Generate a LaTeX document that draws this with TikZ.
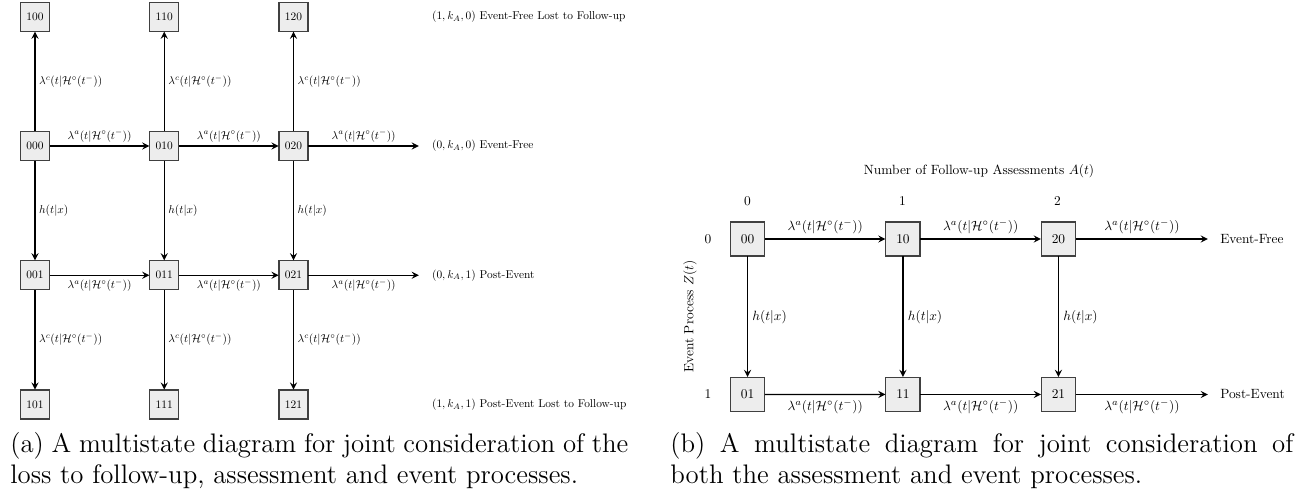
\RequirePackage{fix-cm}
\documentclass[tikz,border=0pt]{standalone}
\usepackage{tikz}
\usetikzlibrary{arrows,positioning}
\tikzset{
  state/.style = {
    rectangle,
    draw=black!75,
    line width=0.6pt,
    fill=black!7,
    minimum size=25.5pt,
    inner sep=0pt
  },
  outcome/.style = {
    anchor=west
  },
  flow/.style = {
    line width=0.6pt,
    ->,
    >=stealth,
    black
  },
  caption/.style = {
    anchor=base west,
    inner sep=0pt,
    align=justify,
    font=\fontsize{13.4}{15.5}\selectfont
  }
}
\newcommand{\rateA}{$\lambda^a(t|\mathcal{H}^\circ(t^-))$}
\newcommand{\rateC}{$\lambda^c(t|\mathcal{H}^\circ(t^-))$}
\newcommand{\hazard}{$h(t|x)$}

\begin{document}
\begin{tikzpicture}[x=0.5pt,y=-0.5pt]
\useasboundingbox (0,0) rectangle (1308,498);

% (a) Verlust, Assessment und Event
\begin{scope}[node distance=49.75pt, every node/.append style={scale=0.57}, outcome/.append style={inner xsep=11.4pt}]
\node[state] (s000) at (35,146) {000};
\node[state, right=of s000] (s010) {010};
\node[state, right=of s010] (s020) {020};

\node[state, above=of s000] (s100) {100};
\node[state, above=of s010] (s110) {110};
\node[state, above=of s020] (s120) {120};

\node[state, below=of s000] (s001) {001};
\node[state, below=of s010] (s011) {011};
\node[state, below=of s020] (s021) {021};

\node[state, below=of s001] (s101) {101};
\node[state, below=of s011] (s111) {111};
\node[state, below=of s021] (s121) {121};

% Endzustaende
\node[outcome, right=55.25pt of s120] (lost0) {$(1,k_A,0)$ Event-Free Lost to Follow-up};
\node[outcome, right=55.25pt of s020] (free0) {$(0,k_A,0)$ Event-Free};
\node[outcome, right=55.25pt of s021] (post0) {$(0,k_A,1)$ Post-Event};
\node[outcome, right=55.25pt of s121] (lost1) {$(1,k_A,1)$ Post-Event Lost to Follow-up};

% Assessments
\draw[flow] (s000) -- node[above] {\rateA} (s010);
\draw[flow] (s010) -- node[above] {\rateA} (s020);
\draw[flow] (s020) -- node[above] {\rateA} (free0);
\draw[flow] (s001) -- node[below] {\rateA} (s011);
\draw[flow] (s011) -- node[below] {\rateA} (s021);
\draw[flow] (s021) -- node[below] {\rateA} (post0);

% Verlust
\draw[flow] (s000) -- node[right] {\rateC} (s100);
\draw[flow] (s010) -- node[right] {\rateC} (s110);
\draw[flow] (s020) -- node[right] {\rateC} (s120);
\draw[flow] (s001) -- node[right] {\rateC} (s101);
\draw[flow] (s011) -- node[right] {\rateC} (s111);
\draw[flow] (s021) -- node[right] {\rateC} (s121);

% Event
\draw[flow] (s000) -- node[right] {\hazard} (s001);
\draw[flow] (s010) -- node[right] {\hazard} (s011);
\draw[flow] (s020) -- node[right] {\hazard} (s021);
\end{scope}

% (b) Assessment und Event
\begin{scope}[node distance=60.25pt, every node/.append style={scale=0.67}, outcome/.append style={inner xsep=9pt}]
\node[state] (s00) at (747.5,239) {00};
\node[state, right=of s00] (s10) {10};
\node[state, right=of s10] (s20) {20};
\node[state, below=of s00] (s01) {01};
\node[state, below=of s10] (s11) {11};
\node[state, below=of s20] (s21) {21};

\node[outcome, right=66pt of s20] (free) {Event-Free};
\node[outcome, right=66pt of s21] (post) {Post-Event};

% Achsen
\node (atitle) at (979,171) {Number of Follow-up Assessments $A(t)$};
\node (acol0) at (747.5,201) {0};
\node (acol1) at (902.5,201) {1};
\node (acol2) at (1057.5,201) {2};
\node (zrow0) at (708,239) {0};
\node (zrow1) at (708,394) {1};
\node[rotate=90] (ztitle) at (690,316.5) {Event Process $Z(t)$};

\draw[flow] (s00) -- node[above] {\rateA} (s10);
\draw[flow] (s10) -- node[above] {\rateA} (s20);
\draw[flow] (s20) -- node[above] {\rateA} (free);
\draw[flow] (s01) -- node[below] {\rateA} (s11);
\draw[flow] (s11) -- node[below] {\rateA} (s21);
\draw[flow] (s21) -- node[below] {\rateA} (post);

\draw[flow] (s00) -- node[right] {\hazard} (s01);
\draw[flow] (s10) -- node[right] {\hazard} (s11);
\draw[flow] (s20) -- node[right] {\hazard} (s21);
\end{scope}

% Untertitel
\node[caption, text width=309pt] (capa) at (10,452) {(a) A multistate diagram for joint consideration of the\linebreak loss to follow-up, assessment and event processes.};
\node[caption, text width=311.5pt] (capb) at (670,452) {(b) A multistate diagram for joint consideration of\linebreak both the assessment and event processes.};

\end{tikzpicture}
\end{document}
